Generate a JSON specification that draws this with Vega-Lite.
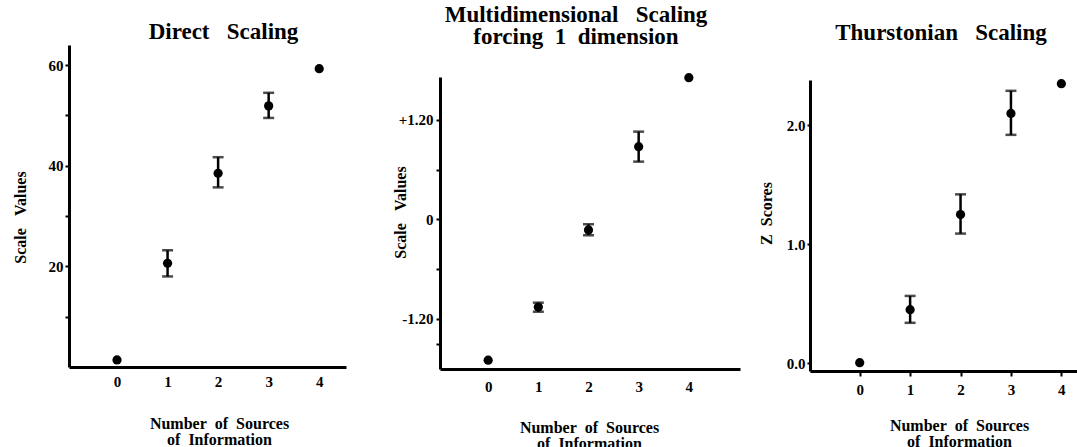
{
  "$schema": "https://vega.github.io/schema/vega-lite/v6.json",
  "padding": {"left": 12, "top": 4, "right": 0, "bottom": 0},
  "background": "white",
  "bounds": "flush",
  "spacing": 70,
  "datasets": {
    "direct": [
      {"n": 0, "v": 1.4, "lo": null, "hi": null},
      {"n": 1, "v": 20.6, "lo": 18.0, "hi": 23.2},
      {"n": 2, "v": 38.5, "lo": 35.7, "hi": 41.7},
      {"n": 3, "v": 51.9, "lo": 49.5, "hi": 54.5},
      {"n": 4, "v": 59.3, "lo": null, "hi": null}
    ],
    "mds": [
      {"n": 0, "v": -1.70, "lo": null, "hi": null},
      {"n": 1, "v": -1.058, "lo": -1.115, "hi": -1.006},
      {"n": 2, "v": -0.129, "lo": -0.193, "hi": -0.06},
      {"n": 3, "v": 0.876, "lo": 0.695, "hi": 1.057},
      {"n": 4, "v": 1.708, "lo": null, "hi": null}
    ],
    "thurstone": [
      {"n": 0, "v": 0.005, "lo": null, "hi": null},
      {"n": 1, "v": 0.45, "lo": 0.34, "hi": 0.566},
      {"n": 2, "v": 1.25, "lo": 1.09, "hi": 1.42},
      {"n": 3, "v": 2.10, "lo": 1.92, "hi": 2.29},
      {"n": 4, "v": 2.35, "lo": null, "hi": null}
    ]
  },
  "hconcat": [
    {
      "width": 277,
      "height": 322,
      "title": {"text": "Direct\u00a0\u00a0\u00a0Scaling", "dx": 16, "offset": 1},
      "data": {"name": "direct"},
      "encoding": {
        "x": {"field": "n", "type": "quantitative",
          "scale": {"domain": [-0.95, 4.53], "nice": false, "zero": false},
          "axis": {"values": [0, 1, 2, 3, 4], "ticks": false, "tickSize": 0, "labelPadding": 7,
            "title": ["Number\u00a0\u00a0of\u00a0\u00a0Sources", "of\u00a0\u00a0Information"],
            "titleX": 150, "titleY": 48}}
      },
      "layer": [
        {"mark": {"type": "rule", "strokeWidth": 2.5, "color": "black"},
          "encoding": {"y": {"field": "lo", "type": "quantitative",
            "scale": {"domain": [0, 64], "nice": false, "zero": false},
            "axis": {"values": [10, 20, 30, 40, 50, 60], "labelExpr": "datum.value % 20 == 0 ? datum.label : ''",
              "tickSize": 4, "labelPadding": 2, "title": "Scale\u00a0\u00a0\u00a0Values",
              "titleX": -49, "titleY": 172, "titleBaseline": "middle"}},
            "y2": {"field": "hi"}}},
        {"mark": {"type": "tick", "orient": "horizontal", "size": 11, "thickness": 2.5, "color": "black"},
          "encoding": {"y": {"field": "lo", "type": "quantitative"}}},
        {"mark": {"type": "tick", "orient": "horizontal", "size": 11, "thickness": 2.5, "color": "black"},
          "encoding": {"y": {"field": "hi", "type": "quantitative"}}},
        {"mark": {"type": "point", "filled": true, "size": 85, "color": "black", "opacity": 1},
          "encoding": {"y": {"field": "v", "type": "quantitative"}}}
      ]
    },
    {
      "width": 324,
      "height": 324,
      "title": {"text": ["Multidimensional\u00a0\u00a0\u00a0Scaling", "forcing\u00a0\u00a01\u00a0\u00a0dimension"], "dx": -2, "offset": -4, "lineHeight": 22},
      "data": {"name": "mds"},
      "encoding": {
        "x": {"field": "n", "type": "quantitative",
          "scale": {"domain": [-0.96, 5.02], "range": [24, 324], "nice": false, "zero": false},
          "axis": {"values": [0, 1, 2, 3, 4], "ticks": false, "tickSize": 0, "labelPadding": 10,
            "title": ["Number\u00a0\u00a0of\u00a0\u00a0Sources", "of\u00a0\u00a0Information"],
            "titleX": 173, "titleY": 50}}
      },
      "layer": [
        {"mark": {"type": "rule", "strokeWidth": 2.5, "color": "black"},
          "encoding": {"y": {"field": "lo", "type": "quantitative",
            "scale": {"domain": [-1.806, 1.716], "range": [324, 32], "nice": false, "zero": false},
            "axis": {"offset": -24, "values": [-1.5, -1.2, -0.6, 0, 0.6, 1.2],
              "labelExpr": "datum.value == 1.2 ? '+1.20' : datum.value == -1.2 ? '-1.20' : datum.value == 0 ? '0' : ''",
              "tickSize": 4, "labelPadding": 3, "title": "Scale\u00a0\u00a0\u00a0Values",
              "titleX": -40, "titleY": 167, "titleBaseline": "middle"}},
            "y2": {"field": "hi"}}},
        {"mark": {"type": "tick", "orient": "horizontal", "size": 11, "thickness": 2.5, "color": "black"},
          "encoding": {"y": {"field": "lo", "type": "quantitative"}}},
        {"mark": {"type": "tick", "orient": "horizontal", "size": 11, "thickness": 2.5, "color": "black"},
          "encoding": {"y": {"field": "hi", "type": "quantitative"}}},
        {"mark": {"type": "point", "filled": true, "size": 85, "color": "black", "opacity": 1},
          "encoding": {"y": {"field": "v", "type": "quantitative"}}}
      ]
    },
    {
      "width": 268,
      "height": 326,
      "title": {"text": "Thurstonian\u00a0\u00a0\u00a0Scaling", "dx": -3, "offset": 0},
      "data": {"name": "thurstone"},
      "encoding": {
        "x": {"field": "n", "type": "quantitative",
          "scale": {"domain": [-0.986, 4.33], "nice": false, "zero": false},
          "axis": {"values": [0, 1, 2, 3, 4], "ticks": true, "tickSize": 5, "labelPadding": 6,
            "title": ["Number\u00a0\u00a0of\u00a0\u00a0Sources", "of\u00a0\u00a0Information"],
            "titleX": 149, "titleY": 46}}
      },
      "layer": [
        {"mark": {"type": "rule", "strokeWidth": 2.5, "color": "black"},
          "encoding": {"y": {"field": "lo", "type": "quantitative",
            "scale": {"domain": [-0.065, 2.381], "range": [326, 35], "nice": false, "zero": false},
            "axis": {"values": [0, 1, 2], "format": ".1f",
              "tickSize": 3, "labelPadding": 2, "title": "Z\u00a0\u00a0Scores",
              "titleX": -44, "titleY": 168, "titleBaseline": "middle"}},
            "y2": {"field": "hi"}}},
        {"mark": {"type": "tick", "orient": "horizontal", "size": 11, "thickness": 2.5, "color": "black"},
          "encoding": {"y": {"field": "lo", "type": "quantitative"}}},
        {"mark": {"type": "tick", "orient": "horizontal", "size": 11, "thickness": 2.5, "color": "black"},
          "encoding": {"y": {"field": "hi", "type": "quantitative"}}},
        {"mark": {"type": "point", "filled": true, "size": 85, "color": "black", "opacity": 1},
          "encoding": {"y": {"field": "v", "type": "quantitative"}}}
      ]
    }
  ],
  "config": {
    "view": {"stroke": null},
    "axis": {
      "grid": false,
      "domainColor": "black", "domainWidth": 3,
      "tickColor": "black", "tickWidth": 2,
      "labelFont": "Liberation Serif", "labelFontWeight": "bold", "labelFontSize": 15, "labelColor": "black",
      "titleFont": "Liberation Serif", "titleFontWeight": "bold", "titleFontSize": 16, "titleColor": "black",
      "titleLineHeight": 16
    },
    "title": {
      "font": "Liberation Serif", "fontWeight": "bold", "fontSize": 23, "color": "black",
      "frame": "group", "anchor": "middle", "baseline": "alphabetic"
    }
  }
}
